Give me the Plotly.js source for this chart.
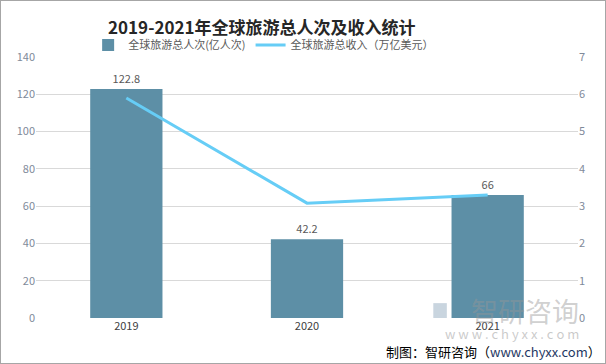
<!DOCTYPE html>
<html><head><meta charset="utf-8">
<script src="https://cdn.plot.ly/plotly-3.0.1.min.js"></script>
<style>html,body{margin:0;padding:0;background:#fff}#w{position:relative;width:606px;height:364px}#b{position:absolute;left:0;top:0;width:606px;height:364px;box-sizing:border-box;border:1px solid #a6a6a6;pointer-events:none}</style>
</head><body><div id="w"><div id="c"></div><div id="b"></div></div>
<script>
const years = ['2019', '2020', '2021'];
const tourists = [122.8, 42.2, 66];          // 全球旅游总人次(亿人次)
const revenue = [5.9, 3.08, 3.3];            // 全球旅游总收入（万亿美元）
const leftTicks = [0, 20, 40, 60, 80, 100, 120, 140];
const rightTicks = [0, 1, 2, 3, 4, 5, 6, 7];

const font = '"Microsoft YaHei","Noto Sans CJK SC","DejaVu Sans",sans-serif';
const traces = [
  {type:'bar', x:years, y:tourists, name:'全球旅游总人次(亿人次)', width:0.4,
   marker:{color:'#5d8fa6'}, text:tourists.map(String), textposition:'outside',
   textfont:{color:'#595959', size:11}, cliponaxis:false, yaxis:'y'},
  {type:'scatter', mode:'lines', x:years, y:revenue, name:'全球旅游总收入（万亿美元）',
   line:{color:'#66cdf6', width:3}, yaxis:'y2'}
];
const layout = {
  width:606, height:364, margin:{l:36, r:28, t:57, b:46},
  paper_bgcolor:'#fff', plot_bgcolor:'#fff',
  font:{family:font, color:'#595959', size:11},
  title:{text:'<b>2019-2021年全球旅游总人次及收入统计</b>', x:0.432, xanchor:'center', y:0.922, yanchor:'middle',
    font:{size:17, color:'#262626', family:'"Noto Sans CJK SC",sans-serif'}},
  showlegend:true,
  legend:{orientation:'h', x:0.42, xanchor:'center', y:0.99, yanchor:'bottom', font:{size:11, color:'#595959'},
    itemwidth:30, tracegroupgap:0},
  bargap:0.6,
  xaxis:{type:'category', showgrid:false, zeroline:false, showline:false, ticks:'',
    tickfont:{size:11, color:'#404040'}},
  yaxis:{range:[0,140], tickvals:leftTicks, showgrid:true, gridcolor:'#d9d9d9', gridwidth:1, zeroline:false,
    tickfont:{size:11, color:'#7f8a9a'}, ticks:'', ticklen:0},
  yaxis2:{range:[0,7], tickvals:rightTicks, overlaying:'y', side:'right', showgrid:false, zeroline:false,
    tickfont:{size:11, color:'#7f8a9a'}},
  annotations:[
    {xref:'paper', yref:'paper', x:1.006, y:0.027, xanchor:'right', yanchor:'middle', showarrow:false,
     text:'智研咨询', font:{size:27, color:'rgba(150,150,150,0.45)'}},
    {xref:'paper', yref:'paper', x:1.006, y:-0.06, xanchor:'right', yanchor:'middle', showarrow:false,
     text:'w w w . c h y x x . c o m', font:{size:13, color:'rgba(150,150,150,0.5)'}},
    {xref:'paper', yref:'paper', x:1.046, y:-0.13, xanchor:'right', yanchor:'middle', showarrow:false,
     text:'制图：智研咨询（<span style="color:#1f3864">www.chyxx.com</span>）', font:{size:13, color:'#000'}}
  ],
  shapes:[
    {type:'rect', xref:'paper', yref:'paper', x0:0.733, x1:0.758, y0:0.0, y1:0.057, fillcolor:'rgba(120,150,175,0.4)', line:{width:0}}
  ]
};
Plotly.newPlot('c', traces, layout, {displayModeBar:false, staticPlot:true});
</script></body></html>
